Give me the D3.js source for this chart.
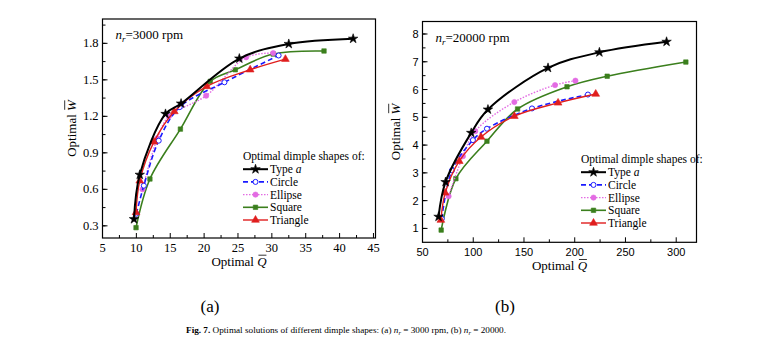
<!DOCTYPE html>
<html>
<head>
<meta charset="utf-8">
<script src="https://cdn.jsdelivr.net/npm/d3@7"></script>
<style>
  body { margin: 0; background: #fff; }
  text { font-family: "Liberation Serif", "Times New Roman", serif; }
</style>
</head>
<body>
<div id="chart"></div>
<script>
// Panel (a): nr = 3000 rpm, [Q, W]
const typeA_a = [[9.65, 0.355], [10.5, 0.72], [14.3, 1.22], [16.6, 1.305], [25.2, 1.675], [32.5, 1.795], [42.0, 1.838]];
const circle_a = [[10.0, 0.40], [11.1, 0.63], [13.3, 1.0], [16.4, 1.276], [23.0, 1.48], [31.0, 1.70]];
const ellipse_a = [[10.9, 0.60], [13.1, 1.02], [14.8, 1.20], [20.3, 1.37], [26.2, 1.685], [30.2, 1.72]];
const square_a = [[9.95, 0.285], [12.0, 0.685], [16.5, 1.095], [20.9, 1.487], [24.6, 1.583], [30.2, 1.712], [37.7, 1.737]];
const triangle_a = [[9.95, 0.41], [10.5, 0.67], [12.6, 0.99], [15.6, 1.24], [20.4, 1.446], [26.8, 1.583], [32.0, 1.67]];

// Panel (b): nr = 20000 rpm, [Q, W]
const typeA_b = [[65.8, 1.42], [72.7, 2.67], [98, 4.44], [114.5, 5.28], [173.7, 6.78], [224.3, 7.34], [290.5, 7.72]];
const circle_b = [[69, 1.35], [79, 3.09], [99.7, 4.18], [113.5, 4.59], [157.9, 5.32], [213, 5.82]];
const ellipse_b = [[75.7, 2.16], [89.8, 3.6], [102, 4.5], [140.5, 5.55], [180.6, 6.16], [200.7, 6.32]];
const square_b = [[68.4, 0.94], [82.9, 2.79], [113.5, 4.14], [143.7, 5.30], [192.4, 6.10], [232, 6.48], [309.5, 6.99]];
const triangle_b = [[68.1, 1.30], [72.4, 2.28], [86.2, 3.42], [107.6, 4.29], [140.5, 5.04], [183.6, 5.52], [220.7, 5.84]];

const seriesNames = ["Type a", "Circle", "Ellipse", "Square", "Triangle"];
const xTicksA = [5, 10, 15, 20, 25, 30, 35, 40, 45];
const yTicksA = [0.3, 0.6, 0.9, 1.2, 1.5, 1.8];
const xTicksB = [50, 100, 150, 200, 250, 300];
const yTicksB = [1, 2, 3, 4, 5, 6, 7, 8];

const styles = {
  "Type a":   { color: "#000000", dash: null,  symbol: d3.symbolStar,     size: 28, fill: "#000000", width: 2 },
  "Circle":   { color: "#1a1aff", dash: "5,3", symbol: d3.symbolCircle,   size: 20, fill: "#ffffff", width: 1.6 },
  "Ellipse":  { color: "#e36be3", dash: "1.5,1.5", symbol: d3.symbolCircle, size: 22, fill: "#e36be3", width: 1.4 },
  "Square":   { color: "#3b7f1d", dash: null,  symbol: d3.symbolSquare,   size: 20, fill: "#3b7f1d", width: 1.6 },
  "Triangle": { color: "#e01e1e", dash: null,  symbol: d3.symbolTriangle, size: 26, fill: "#e01e1e", width: 1.4 }
};

const svg = d3.select("#chart").append("svg")
  .attr("width", 772).attr("height", 351);

// "Optimal X" with an overline drawn just above the italic letter
function overTitle(parent, letter) {
  const t = parent.append("text").attr("text-anchor", "middle").style("font-size", "13px");
  t.append("tspan").text("Optimal ");
  t.append("tspan").style("font-style", "italic").text(letter);
  const ext = t.node().getExtentOfChar(8);
  parent.append("line")
    .attr("x1", ext.x + 1.2).attr("x2", ext.x + ext.width - 0.2)
    .attr("y1", -10.8).attr("y2", -10.8)
    .attr("stroke", "#000").attr("stroke-width", 0.8);
}

function drawPanel(cfg) {
  const x = d3.scaleLinear().domain(cfg.xDomain).range([cfg.left, cfg.right]);
  const y = d3.scaleLinear().domain(cfg.yDomain).range([cfg.bottom, cfg.top]);
  const g = svg.append("g");

  // frame
  g.append("rect")
    .attr("x", cfg.left).attr("y", cfg.top)
    .attr("width", cfg.right - cfg.left).attr("height", cfg.bottom - cfg.top)
    .attr("fill", "none").attr("stroke", "#000").attr("stroke-width", 1.2);

  // ticks (inward)
  const xMinor = d3.range(cfg.xDomain[0], cfg.xDomain[1] + 1e-9, cfg.xMinorStep);
  g.selectAll(".xminor").data(xMinor).enter().append("line")
    .attr("x1", d => x(d)).attr("x2", d => x(d))
    .attr("y1", cfg.bottom).attr("y2", d => cfg.xTicks.includes(+d.toFixed(3)) ? cfg.bottom - 5 : cfg.bottom - 3)
    .attr("stroke", "#000").attr("stroke-width", 1);
  const yMinor = d3.range(cfg.yTicks[0] - cfg.yMinorStep * 4, cfg.yDomain[1], cfg.yMinorStep)
    .filter(d => d > cfg.yDomain[0] + 1e-9 && d < cfg.yDomain[1]);
  g.selectAll(".yminor").data(yMinor).enter().append("line")
    .attr("y1", d => y(d)).attr("y2", d => y(d))
    .attr("x1", cfg.left).attr("x2", cfg.left + 3)
    .attr("stroke", "#000").attr("stroke-width", 1);
  g.selectAll(".ymajor").data(cfg.yTicks).enter().append("line")
    .attr("y1", d => y(d)).attr("y2", d => y(d))
    .attr("x1", cfg.left).attr("x2", cfg.left + 5)
    .attr("stroke", "#000").attr("stroke-width", 1);

  // tick labels
  g.selectAll(".xlab").data(cfg.xTicks).enter().append("text")
    .attr("x", d => x(d)).attr("y", cfg.bottom + 14)
    .attr("text-anchor", "middle")
    .style("font-family", cfg.tickFont).style("font-size", cfg.tickSize)
    .text(d => d);
  g.selectAll(".ylab").data(cfg.yTicks).enter().append("text")
    .attr("x", cfg.left - 4).attr("y", d => y(d) + 4)
    .attr("text-anchor", "end")
    .style("font-family", cfg.tickFont).style("font-size", cfg.tickSize)
    .text(d => cfg.yFmt(d));

  // axis titles
  overTitle(g.append("g").attr("transform", `translate(${(cfg.left + cfg.right) / 2},${cfg.bottom + 28})`), "Q");
  overTitle(g.append("g").attr("transform", `translate(${cfg.left - cfg.yTitleOff},${(cfg.top + cfg.bottom) / 2}) rotate(-90)`), "W");

  // speed annotation
  const ann = g.append("text").attr("x", cfg.left + 13).attr("y", cfg.top + 20).style("font-size", "13px");
  ann.append("tspan").style("font-style", "italic").text("n");
  ann.append("tspan").style("font-style", "italic").style("font-size", "9px").attr("dy", 3).text("r");
  ann.append("tspan").attr("dy", -3).text("=" + cfg.speed + " rpm");

  // curves
  const clipId = "clip" + cfg.id;
  svg.append("clipPath").attr("id", clipId).append("rect")
    .attr("x", cfg.left).attr("y", cfg.top)
    .attr("width", cfg.right - cfg.left).attr("height", cfg.bottom - cfg.top);
  const line = d3.line().x(d => x(d[0])).y(d => y(d[1])).curve(d3.curveCatmullRom.alpha(0.5));

  const order = ["Square", "Ellipse", "Circle", "Triangle", "Type a"];
  order.forEach(name => {
    const s = styles[name];
    const data = cfg.data[name];
    g.append("path").datum(data)
      .attr("clip-path", `url(#${clipId})`)
      .attr("d", line)
      .attr("fill", "none").attr("stroke", s.color)
      .attr("stroke-width", s.width)
      .attr("stroke-dasharray", s.dash);
    g.selectAll(null).data(data).enter().append("path")
      .attr("transform", d => `translate(${x(d[0])},${y(d[1])})`)
      .attr("d", d3.symbol().type(s.symbol).size(s.size))
      .attr("fill", s.fill).attr("stroke", s.color).attr("stroke-width", name === "Circle" ? 1 : 0.6);
  });

  // legend
  const lg = g.append("g").attr("transform", `translate(${cfg.legX},${cfg.legY})`);
  lg.append("text").attr("x", 0).attr("y", 0).style("font-size", "11.5px").text("Optimal dimple shapes of:");
  seriesNames.forEach((name, i) => {
    const s = styles[name];
    const yy = 12.7 * (i + 1) - 3.5;
    lg.append("line").attr("x1", 0).attr("x2", 25).attr("y1", yy).attr("y2", yy)
      .attr("stroke", s.color).attr("stroke-width", s.width).attr("stroke-dasharray", s.dash);
    lg.append("path").attr("transform", `translate(12.5,${yy})`)
      .attr("d", d3.symbol().type(s.symbol).size(s.size))
      .attr("fill", s.fill).attr("stroke", s.color).attr("stroke-width", name === "Circle" ? 1 : 0.6);
    const t = lg.append("text").attr("x", 27).attr("y", yy + 4).style("font-size", "11.5px");
    if (name === "Type a") {
      t.append("tspan").text("Type ");
      t.append("tspan").style("font-style", "italic").text("a");
    } else {
      t.text(name);
    }
  });
}

drawPanel({
  id: "a", left: 102.5, right: 375.5, top: 19, bottom: 238,
  xDomain: [5, 45.3], yDomain: [0.2, 2.0],
  xTicks: xTicksA, yTicks: yTicksA, xMinorStep: 2.5, yMinorStep: 0.15,
  tickFont: "Liberation Serif", tickSize: "12.5px", yFmt: d => d.toFixed(1),
  yTitleOff: 27, speed: "3000",
  legX: 243, legY: 160,
  data: { "Type a": typeA_a, "Circle": circle_a, "Ellipse": ellipse_a, "Square": square_a, "Triangle": triangle_a }
});

drawPanel({
  id: "b", left: 422.5, right: 696.5, top: 21.5, bottom: 242.3,
  xDomain: [50, 320], yDomain: [0.5, 8.45],
  xTicks: xTicksB, yTicks: yTicksB, xMinorStep: 25, yMinorStep: 0.5,
  tickFont: "Liberation Sans", tickSize: "11px", yFmt: d => d,
  yTitleOff: 23, speed: "20000",
  legX: 581, legY: 163,
  data: { "Type a": typeA_b, "Circle": circle_b, "Ellipse": ellipse_b, "Square": square_b, "Triangle": triangle_b }
});

// panel labels
svg.append("text").attr("x", 210).attr("y", 312).attr("text-anchor", "middle").style("font-size", "17px").text("(a)");
svg.append("text").attr("x", 505).attr("y", 312).attr("text-anchor", "middle").style("font-size", "17px").text("(b)");

// caption
const cap = svg.append("text").attr("x", 346).attr("y", 333).attr("text-anchor", "middle").style("font-size", "9.2px");
cap.append("tspan").style("font-weight", "bold").text("Fig. 7. ");
cap.append("tspan").text("Optimal solutions of different dimple shapes: (a) ");
cap.append("tspan").style("font-style", "italic").text("n");
cap.append("tspan").style("font-style", "italic").style("font-size", "6.5px").attr("dy", 2).text("r");
cap.append("tspan").attr("dy", -2).text(" = 3000 rpm, (b) ");
cap.append("tspan").style("font-style", "italic").text("n");
cap.append("tspan").style("font-style", "italic").style("font-size", "6.5px").attr("dy", 2).text("r");
cap.append("tspan").attr("dy", -2).text(" = 20000.");
</script>
</body>
</html>
